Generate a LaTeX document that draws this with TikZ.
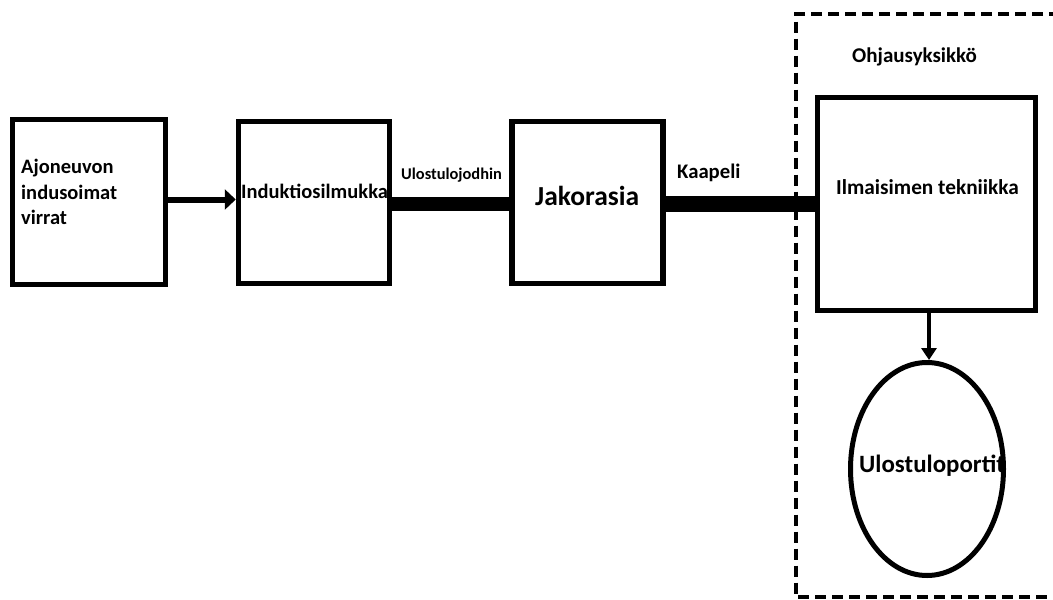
\documentclass[tikz,border=0pt]{standalone}
\usepackage{fontspec}
\setmainfont{Carlito}
\usetikzlibrary{arrows.meta,shapes.geometric}
\begin{document}
\begin{tikzpicture}[x=1pt,y=-1pt,
  blk/.style={draw,line width=5.5pt,minimum width=#1,inner sep=0pt},
  lbl/.style={inner sep=0pt,text=black,anchor=base west},
  fs/.style={font=\bfseries\fontsize{#1}{#1}\selectfont},
  conn/.style={line width=#1}]
\useasboundingbox (0,0) rectangle (1053,600);
% dashed control unit frame
\draw[line width=4pt,dash pattern=on 11pt off 6pt] (1060,14) -- (795.5,14) -- (795.5,597) -- (1060,597);
% boxes
\node[blk=153pt,minimum height=165pt] (b1) at (89,202) {};
\node[blk=151pt,minimum height=162pt] (b2) at (314,202.5) {};
\node[blk=151pt,minimum height=162pt] (b3) at (587.5,202.5) {};
\node[blk=218pt,minimum height=213pt] (b4) at (926.5,204) {};
\node[draw,ellipse,line width=5pt,minimum width=153pt,minimum height=213pt,inner sep=0pt] (e) at (927,469) {};
% connectors
\draw[conn=6pt,-{Triangle[length=11pt,width=20pt]}] (b1.east |- 0,199.5) -- (b2.west |- 0,199.5);
\draw[conn=14pt] (b2.east |- 0,204) -- (b3.west |- 0,204);
\draw[conn=16pt] (b3.east |- 0,204) -- (b4.west |- 0,204);
\draw[conn=4pt,-{Triangle[length=12pt,width=15pt]}] (b4.south -| 929,0) -- (e.north -| 929,0);
% texts
\node[inner sep=0pt,font=\bfseries\fontsize{20.5}{25.5}\selectfont,align=left,anchor=north west] (t1) at (21,159) {Ajoneuvon\\indusoimat\\virrat};
\node[lbl,fs=20.5] (t2) at (241,198) {Induktiosilmukka};
\node[lbl,fs=27.5] (t3) at (535,205) {Jakorasia};
\node[lbl,fs=16.4] (t4) at (401,179) {Ulostulojodhin};
\node[lbl,fs=20.7] (t5) at (677,178) {Kaapeli};
\node[lbl,fs=21] (t6) at (852,62) {Ohjausyksikkö};
\node[lbl,fs=21.3] (t7) at (836,194) {Ilmaisimen tekniikka};
\node[lbl,fs=24.9] (t8) at (859,472) {Ulostuloportit};
\end{tikzpicture}
\end{document}
